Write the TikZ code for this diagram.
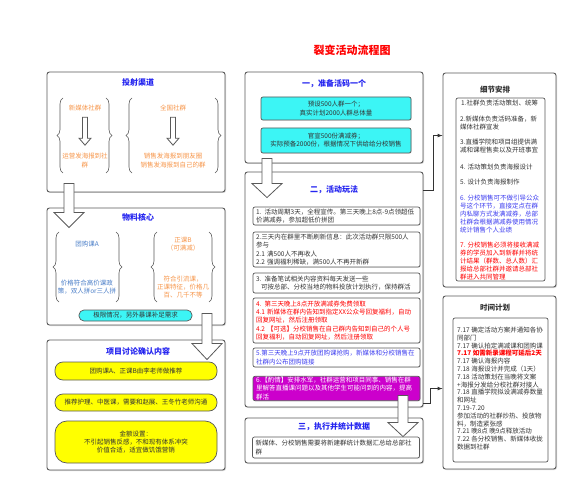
\documentclass[tikz,border=0pt]{standalone}
\usepackage{fontspec}
\setmainfont{Noto Sans CJK SC}
\usepackage{tikz}
\usetikzlibrary{arrows,calc,decorations.pathreplacing,shadows}

\definecolor{boxline}{HTML}{595959}
\definecolor{txtgray}{HTML}{333333}
\definecolor{hdblue}{HTML}{2424F0}
\definecolor{itblue}{HTML}{3C3CF0}
\definecolor{matblue}{HTML}{4A7EC8}
\definecolor{chorange}{HTML}{F7964A}
\definecolor{hlcyan}{HTML}{3CF5F5}
\definecolor{hlyellow}{HTML}{FFFF00}
\definecolor{hlmagenta}{HTML}{CC00CC}

\newcommand{\smalltxt}{\fontsize{6.5}{8.2}\selectfont}
\newcommand{\headtxt}{\fontsize{8}{10}\selectfont\bfseries}
\newcommand{\bigarrow}[5]{%
  \draw[hollow] let \p1=#1, \p2=#2 in
    (\x1-#3pt,\y1) -- (\x1-#3pt,\y2+#5pt) -- (\x1-#4pt,\y2+#5pt) -- (\x1,\y2)
    -- (\x1+#4pt,\y2+#5pt) -- (\x1+#3pt,\y2+#5pt) -- (\x1+#3pt,\y1) -- cycle;}

\begin{document}
\begin{tikzpicture}[x=1pt,y=-1pt,
  panel/.style={draw=boxline, line width=0.9pt, rounded corners=2.5pt, fill=white,
    drop shadow={shadow xshift=1pt, shadow yshift=-1pt, opacity=0.3}},
  head/.style={font=\headtxt, text=hdblue},
  blackhead/.style={font=\fontsize{7.5}{9}\selectfont\bfseries, text=txtgray},
  item/.style={draw=boxline, line width=0.7pt, rounded corners=2pt, fill=white,
    text=txtgray, font=\smalltxt, align=left, text width=161pt, inner xsep=3pt,
    inner ysep=1pt, drop shadow={shadow xshift=0.7pt, shadow yshift=-0.7pt, opacity=0.25}},
  cyanbox/.style={item, fill=hlcyan, align=center, text width=144pt},
  pill/.style={draw=boxline, line width=0.7pt, rounded corners=8pt, fill=hlyellow,
    text=txtgray, font=\smalltxt, align=center, minimum width=162pt, inner sep=1pt},
  inbox/.style={draw=boxline, line width=0.7pt, rounded corners=2pt, fill=white},
  para/.style={font=\smalltxt, align=left, text=txtgray, inner sep=1pt, anchor=west},
  note/.style={font=\smalltxt, align=center, inner sep=1pt},
  brace/.style={draw=boxline, line width=0.6pt, decorate, decoration={brace, amplitude=6pt}},
  hollow/.style={draw=boxline, line width=0.8pt, fill=white},
  link/.style={draw=txtgray, line width=0.7pt, ->, >=latex}]
\useasboundingbox (0,0) rectangle (587,500);
\node[font=\fontsize{11}{13}\selectfont\bfseries, text=red] (title) at (352,50) {裂变活动流程图};

\node[panel, minimum width=178pt, minimum height=120pt] (qudao) at (136,132) {};
\node[panel, minimum width=178pt, minimum height=117pt] (wuliao) at (136,266.5) {};
\node[panel, minimum width=178pt, minimum height=130pt] (taolun) at (136,405) {};
\node[panel, minimum width=178pt, minimum height=91pt] (zhunbei) at (334,117.5) {};
\node[panel, minimum width=178pt, minimum height=235pt] (wanfa) at (334,289.5) {};
\node[panel, minimum width=178pt, minimum height=45pt] (zhixing) at (334,440.5) {};
\node[panel, minimum width=113pt, minimum height=214pt] (xijie) at (499.5,180) {};
\node[panel, minimum width=113pt, minimum height=173pt] (shijian) at (499.5,382.5) {};

\node[head] (qudaoT) at (138,82) {投射渠道};
\node[head] (wuliaoT) at (138,217) {物料核心};
\node[head] (taolunT) at (138,351) {项目讨论确认内容};
\node[head] (zhunbeiT) at (334,84) {一，准备活码一个};
\node[head] (wanfaT) at (334,190) {二，活动玩法};
\node[head] (zhixingT) at (334,427) {三，执行并统计数据};
\node[blackhead] (xijieT) at (495,90) {细节安排};
\node[blackhead] (shijianT) at (495,308) {时间计划};

\draw[brace] (63,173) -- (63,98);
\draw[brace] (106,98) -- (106,173);
\draw[brace] (132,173) -- (132,98);
\draw[brace] (215,98) -- (215,173);
\node[note, text=chorange] (xmt) at (85,108) {新媒体社群};
\node[note, text=chorange] (yunying) at (85,160.5) {运营发海报到社\\群};
\node[note, text=chorange] (quanguo) at (173,108) {全国社群};
\node[note, text=chorange] (xiaoshou) at (173,160.5) {销售发海报到朋友圈\\销售发海报到自己的群};

\draw[brace] (59,302) -- (59,232);
\draw[brace] (116,232) -- (116,302);
\draw[brace] (157,302) -- (157,232);
\draw[brace] (209,232) -- (209,302);
\node[note, text=matblue] (tuangou) at (87,244) {团购课A};
\node[note, text=matblue] (jiage) at (87,287.5) {价格符合高价课政\\策，双人拼or三人拼};
\node[note, text=chorange] (zhengke) at (183,244) {正课B\\（可满减）};
\node[note, text=chorange] (yinliu) at (183,287) {符合引流课，\\正课特征，价格几\\百、几千不等};
\node[pill, fill=hlcyan, rounded corners=5pt, minimum width=113pt, minimum height=11pt] (jixian) at (135.5,315.5) {极限情况，另外暴课补足需求};

\node[pill, minimum height=18pt] (tuijian) at (136,371) {团购课A、正课B由李老师做推荐};
\node[pill, minimum height=17pt] (goutong) at (136,402.5) {推荐护理、中医课，需要和赵展、王冬竹老师沟通};
\node[pill, minimum height=42pt, rounded corners=12pt] (jine) at (136,442) {金额设置：\\不引起销售反感，不和现有体系冲突\\价值合适，适宜做饥饿营销};

\node[cyanbox, minimum height=23pt] (qun) at (336,108.5) {预设500人群一个；\\真实计划2000人群总体量};
\node[cyanbox, minimum height=25pt] (quan) at (336,140.5) {官宣500份满减券；\\实际预备2000份，根据情况下供给给分校销售};

\node[item, minimum height=18pt] (w1) at (336.5,216) {1. 活动周期3天，全程宣传。第三天晚上8点-9点领超低\\价满减券，参加超低价拼团};
\node[item, minimum height=35pt] (w2) at (336.5,249.5) {2.三天内在群里不断刷新信息：此次活动群只限500人\\参与\\2.1 满500人不再收人\\2.2 强调福利稀缺，满500人不再开新群};
\node[item, minimum height=20pt] (w3) at (336.5,283) {3. 准备笔试相关内容资料每天发送一些\\\hspace*{5pt}可按总部、分校当地的物料投放计划执行，保持群活};
\node[item, minimum height=45pt, text=red] (w4) at (336.5,320.5) {4. 第三天晚上8点开放满减券免费领取\\4.1 新媒体在群内告知到指定XX公众号回复福利，自动\\回复网址，然后注册领取\\4.2 【可选】分校销售在自己群内告知到自己的个人号\\回复福利，自动回复网址，然后注册领取};
\node[item, minimum height=19pt, text=itblue] (w5) at (336.5,357.5) {5.第三天晚上9点开放团购课抢购，新媒体和分校销售在\\社群内公布团购链接};
\node[item, minimum height=23pt, fill=hlmagenta, text=white] (w6) at (336.5,388.5) {6.【酌情】安排水军，社群运营和项目同事、销售在群\\里解答直播课问题以及其他学生可能问到的内容，提高\\群活};

\node[item, minimum height=21pt] (huizong) at (336,447.5) {新媒体、分校销售需要将新建群统计数据汇总给总部社\\群};

\node[inbox, minimum width=89pt, minimum height=183pt] (xijieIn) at (500.5,189.5) {};
\node[para] (d1) at (460,103) {1.社群负责活动策划、统筹};
\node[para] (d2) at (459,123) {2.新媒体负责活码准备，新\\媒体社群宣发};
\node[para] (d3) at (459,146) {3.直播学院和项目组提供满\\减和课程售卖以及开班事宜};
\node[para] (d4) at (459,167) {4. 活动策划负责海报设计};
\node[para] (d5) at (459,182) {5. 设计负责海报制作};
\node[para, text=itblue] (d6) at (459,214) {6. 分校销售可不做引导公众\\号这个环节，直接定点在群\\内私聊方式发满减券，总部\\社群会根据满减券使用情况\\统计销售个人业绩};
\node[para, text=red] (d7) at (459,261) {7. 分校销售必须将接收满减\\券的学员加入到新群并将统\\计结果（群数、总人数）汇\\报给总部社群并邀请总部社\\群进入共同管理};

\node[inbox, minimum width=95pt, minimum height=144pt] (shijianIn) at (500.5,390) {};
\node[para, font=\fontsize{6.5}{7.8}\selectfont] (plan) at (456,388.5) {7.17 确定活动方案并通知各协\\同部门\\7.17 确认拍定满减课和团购课\\{\color{red}\bfseries 7.17 如需新录课程可延后2天}\\7.17 确认海报内容\\7.18 海报设计并完成（1天）\\7.18 活动策划在当晚将文案\\+海报分发给分校社群对接人\\7.18 直播学院拟设满减券数量\\和网址\\7.19-7.20\\参加活动的社群炒热、投放物\\料，制造紧张感\\7.21 晚8点 晚9点释放活动\\7.22 各分校销售、新媒体收拢\\数据到社群};

\bigarrow{($(xmt.south)+(0,5)$)}{($(yunying.north)+(0,-7)$)}{2.5}{6}{7}
\bigarrow{($(quanguo.south)+(0,5)$)}{($(xiaoshou.north)+(0,-7)$)}{2.5}{6}{7}
\bigarrow{($(qudao.south)+(-67,-9)$)}{($(wuliao.north)+(-67,20)$)}{5}{15}{15}
\bigarrow{($(wuliao.south)+(71,-12)$)}{($(taolun.north)+(71,20)$)}{5}{15}{16}
\bigarrow{($(zhunbei.south)+(-67,-5)$)}{($(wanfa.north)+(-67,26)$)}{5}{15}{14}
\bigarrow{($(wanfa.south)+(69,-12)$)}{($(zhixing.north)+(69,19)$)}{5}{15}{14}

\draw[link] ($(wanfa.north east)+(0,19)$) -- ++(10,0) |- ($(xijie.north west)+(0,63)$);
\draw[link] ($(wanfa.south east)+(0,-4)$) -- ++(7,0) |- ($(shijian.north west)+(0,93)$);
\end{tikzpicture}
\end{document}
